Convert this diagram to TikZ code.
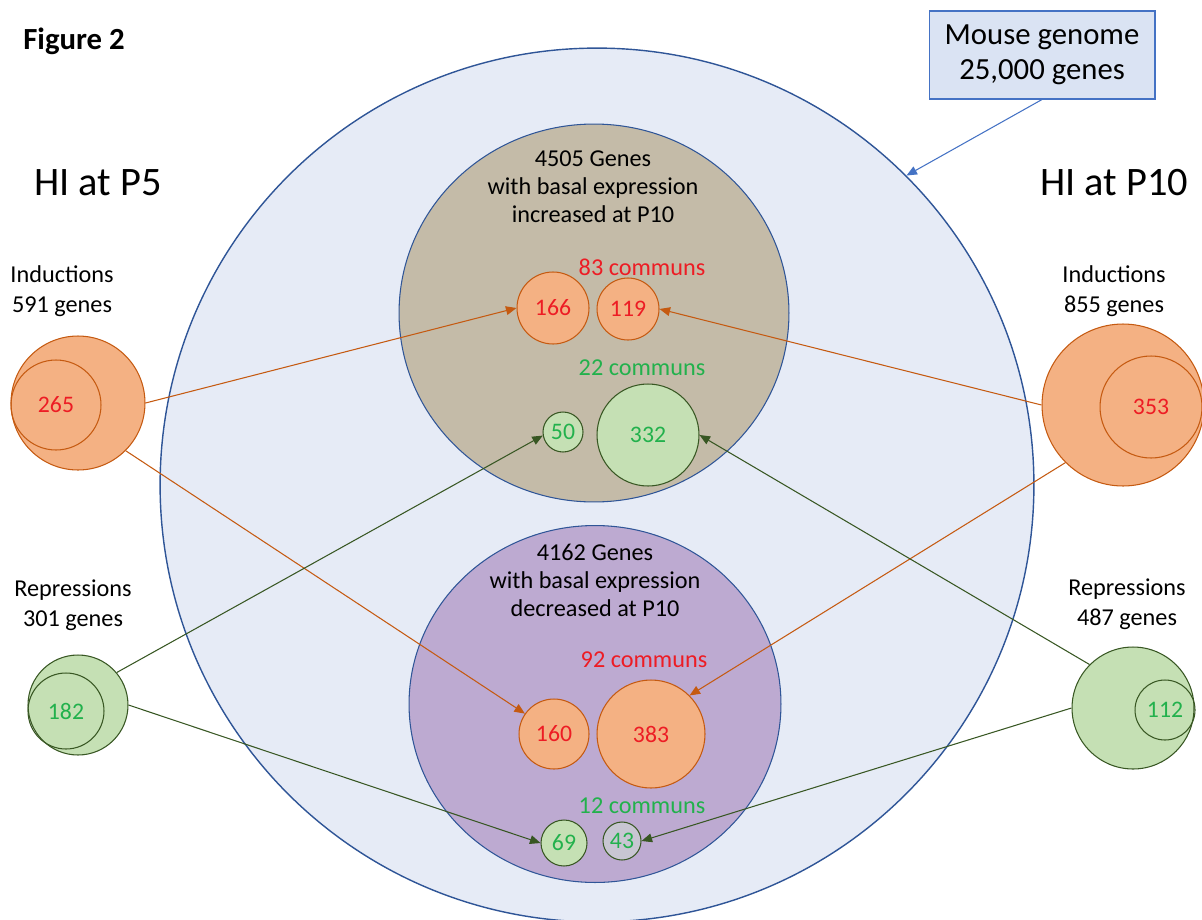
\documentclass[tikz,border=0pt]{standalone}
\usepackage{fontspec}
\setmainfont{Carlito}
\usetikzlibrary{arrows.meta,shapes.geometric}

\definecolor{genomefill}{RGB}{230,235,246}
\definecolor{genomeline}{RGB}{47,85,151}
\definecolor{upfill}{RGB}{196,187,168}
\definecolor{downfill}{RGB}{189,170,209}
\definecolor{indfill}{RGB}{244,177,131}
\definecolor{indline}{RGB}{197,90,17}
\definecolor{repfill}{RGB}{197,224,180}
\definecolor{repline}{RGB}{56,87,35}
\definecolor{numred}{RGB}{237,28,36}
\definecolor{numgreen}{RGB}{34,177,76}
\definecolor{boxfill}{RGB}{218,227,243}
\definecolor{boxline}{RGB}{68,114,196}
\definecolor{mixfill}{RGB}{200,198,210}

\tikzset{
  ind/.style={circle, draw=indline, fill=indfill, line width=0.6pt, inner sep=0pt,
    text=numred, font=\fontsize{13.5}{16}\selectfont},
  rep/.style={circle, draw=repline, fill=repfill, line width=0.6pt, inner sep=0pt,
    text=numgreen, font=\fontsize{13.5}{16}\selectfont},
  ring/.style={fill=none},
  lbl/.style={align=center, font=\fontsize{13.8}{17}\selectfont},
  title/.style={font=\fontsize{23}{27}\selectfont},
  communs/.style={font=\fontsize{13.8}{16}\selectfont},
  setname/.style={align=center, font=\fontsize{13.8}{15.9}\selectfont},
  indarrow/.style={draw=indline, line width=0.6pt, -{Triangle[length=6pt,width=5pt]}},
  reparrow/.style={draw=repline, line width=0.6pt, -{Triangle[length=6pt,width=5pt]}}
}

\begin{document}
\begin{tikzpicture}[x=0.02cm, y=-0.02cm]
        \useasboundingbox (0,0) rectangle (1202,919);

        % Whole genome and the two basal sets
        \node[circle, draw=genomeline, fill=genomefill, line width=0.8pt, inner sep=0pt,
              minimum size=17.48cm] (mouse) at (597,485) {};
        \node[ellipse, draw=genomeline, fill=upfill, line width=0.6pt, inner sep=0pt,
              minimum width=7.8cm, minimum height=7.56cm] (up) at (594,313) {};
        \node[ellipse, draw=genomeline, fill=downfill, line width=0.6pt, inner sep=0pt,
              minimum width=7.44cm, minimum height=7.14cm] (down) at (595,704) {};
        \node[setname] (uptxt) at (593,187) {4505 Genes\\with basal expression\\increased at P10};
        \node[setname] (downtxt) at (595,580) {4162 Genes\\with basal expression\\decreased at P10};

        % Genome box
        \node[draw=boxline, fill=boxfill, line width=0.6pt, align=center,
              minimum width=4.52cm, minimum height=1.76cm,
              font=\fontsize{17.5}{19.8}\selectfont] (genome) at (1042,55) {Mouse genome\\25,000 genes};
        \draw[draw=boxline, line width=0.6pt, -{Triangle[length=6pt,width=5pt]}]
              (genome.south) -- (mouse.45);

        % Titles
        \node[anchor=base west, inner sep=0pt, font=\bfseries\fontsize{17.5}{20}\selectfont] (fig) at (23,50) {Figure 2};
        \node[title] (p5) at (98,183) {HI at P5};
        \node[title] (p10) at (1114,183) {HI at P10};

        % Side labels
        \node[lbl] (lindtxt) at (62,291) {Inductions\\591 genes};
        \node[lbl] (rindtxt) at (1114,291) {Inductions\\855 genes};
        \node[lbl] (lreptxt) at (73,605) {Repressions\\301 genes};
        \node[lbl] (rreptxt) at (1127,604) {Repressions\\487 genes};

        % HI at P5
        \node[ind, minimum size=2.68cm] (lind) at (78,403) {};
        \node[ind, ring, minimum size=1.8cm] (lindin) at (56,405) {265};
        \node[rep, minimum size=2.0cm] (lrep) at (78,705) {};
        \node[rep, ring, minimum size=1.52cm] (lrepin) at (66,711) {182};

        % HI at P10
        \node[ind, minimum size=3.24cm] (rind) at (1123,405) {};
        \node[ind, ring, minimum size=2.04cm] (rindin) at (1151,407) {353};
        \node[rep, minimum size=2.44cm] (rrep) at (1133,708) {};
        \node[rep, ring, minimum size=1.2cm] (rrepin) at (1165,710) {112};

        % Common genes, increased set
        \node[communs, text=numred] (up83) at (642,267) {83 communs};
        \node[ind, minimum size=1.44cm] (c166) at (553,308) {166};
        \node[ind, minimum size=1.24cm] (c119) at (628,309) {119};
        \node[communs, text=numgreen] (up22) at (642,368) {22 communs};
        \node[rep, minimum size=0.8cm] (c50) at (563,432) {50};
        \node[rep, minimum size=2.04cm] (c332) at (648,435) {332};

        % Common genes, decreased set
        \node[communs, text=numred] (down92) at (644,660) {92 communs};
        \node[ind, minimum size=1.4cm] (c160) at (554,734) {160};
        \node[ind, minimum size=2.16cm] (c383) at (651,734) {383};
        \node[communs, text=numgreen] (down12) at (642,806) {12 communs};
        \node[rep, minimum size=0.92cm] (c69) at (564,843) {69};
        \node[rep, fill=mixfill, minimum size=0.76cm] (c43) at (622,841) {43};

        % Arrows
        \draw[indarrow] (lind.east) -- (c166.west);
        \draw[indarrow] (lind.-45) -- (c160.145);
        \draw[indarrow] (rind.west) -- (c119.east);
        \draw[indarrow] (rind.-135) -- (c383.45);
        \draw[reparrow] (lrep.40) -- (c50.190);
        \draw[reparrow] (lrep.east) -- (c69.west);
        \draw[reparrow] (rrep.135) -- (c332.east);
        \draw[reparrow] (rrep.west) -- (c43.east);

    \end{tikzpicture}
\end{document}
